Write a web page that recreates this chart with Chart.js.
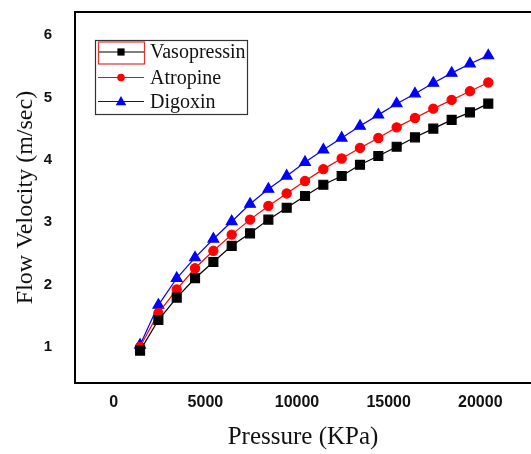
<!DOCTYPE html>
<html>
<head>
<meta charset="utf-8">
<script src="https://cdn.jsdelivr.net/npm/chart.js@4.4.1/dist/chart.umd.min.js"></script>
<style>
  body { margin: 0; background: #fff; }
  #wrap { width: 531px; height: 454px; }
</style>
</head>
<body>
<div id="wrap"><canvas id="myChart" width="531" height="454"></canvas></div>
<script>
// pressure values (KPa)
var pressure = [1000, 2000, 3000, 4000, 5000, 6000, 7000, 8000, 9000, 10000,
                11000, 12000, 13000, 14000, 15000, 16000, 17000, 18000, 19000, 20000];
// flow velocity (m/sec)
var vasopressin = [0.94, 1.43, 1.79, 2.10, 2.36, 2.62, 2.82, 3.04, 3.23, 3.42,
                   3.60, 3.74, 3.92, 4.06, 4.21, 4.36, 4.50, 4.64, 4.76, 4.90];
var atropine = [1.00, 1.54, 1.92, 2.26, 2.54, 2.80, 3.04, 3.26, 3.46, 3.66,
                3.85, 4.02, 4.19, 4.35, 4.52, 4.67, 4.82, 4.96, 5.10, 5.24];
var digoxin = [1.03, 1.67, 2.10, 2.43, 2.73, 3.01, 3.29, 3.53, 3.74, 3.96,
               4.16, 4.35, 4.54, 4.72, 4.90, 5.06, 5.23, 5.39, 5.54, 5.67];
// tick labels
var xTicks = [0, 5000, 10000, 15000, 20000];
var yTicks = [1, 2, 3, 4, 5, 6];

function pts(ys) {
  return ys.map(function (y, i) { return { x: pressure[i], y: y }; });
}

function marker(ctx, style, x, y, r, color) {
  ctx.fillStyle = color;
  ctx.beginPath();
  if (style === 'rect') {
    ctx.rect(x - r, y - r, 2 * r, 2 * r);
  } else if (style === 'circle') {
    ctx.arc(x, y, r, 0, Math.PI * 2);
  } else {
    ctx.moveTo(x, y - r * 1.1);
    ctx.lineTo(x + r * 1.05, y + r * 0.75);
    ctx.lineTo(x - r * 1.05, y + r * 0.75);
    ctx.closePath();
  }
  ctx.fill();
}

// frame around the plot + boxed legend in the top left corner
var framePlugin = {
  id: 'frame',
  afterDraw: function (chart) {
    var ctx = chart.ctx, a = chart.chartArea;
    ctx.save();
    ctx.strokeStyle = '#000';
    ctx.lineWidth = 2;
    ctx.beginPath();
    ctx.moveTo(a.right + 5, a.top);
    ctx.lineTo(a.left, a.top);
    ctx.lineTo(a.left, a.bottom);
    ctx.lineTo(a.right + 5, a.bottom);
    ctx.stroke();

    // legend
    ctx.strokeStyle = '#333';
    ctx.lineWidth = 1.2;
    ctx.strokeRect(95.5, 40.5, 152, 74);
    var rows = [52, 77.5, 101.5];
    var styles = ['rect', 'circle', 'triangle'];
    var sizes = [3.6, 3.8, 5];
    ctx.font = '20px "Liberation Serif", "Times New Roman", serif';
    ctx.textBaseline = 'middle';
    chart.data.datasets.forEach(function (ds, i) {
      var y = rows[i];
      ctx.strokeStyle = ds.borderColor;
      ctx.lineWidth = 1.2;
      ctx.beginPath();
      ctx.moveTo(98, y);
      ctx.lineTo(144, y);
      ctx.stroke();
      marker(ctx, styles[i], 121, y, sizes[i], ds.pointBackgroundColor);
      ctx.fillStyle = '#111';
      ctx.fillText(ds.label, 150, y + 1);
    });
    ctx.strokeStyle = '#e53030';
    ctx.lineWidth = 1.2;
    ctx.strokeRect(98.5, 42, 46, 22);
    ctx.restore();
  }
};

var ctx = document.getElementById('myChart');
var myChart = new Chart(ctx, {
  type: 'line',
  data: {
    datasets: [
      {
        label: 'Vasopressin',
        data: pts(vasopressin),
        borderColor: '#000000',
        pointBackgroundColor: '#000000',
        pointBorderColor: '#000000',
        pointStyle: 'rect',
        pointRadius: 6.3,
        borderWidth: 1.2
      },
      {
        label: 'Atropine',
        data: pts(atropine),
        borderColor: '#ff0000',
        pointBackgroundColor: '#ff0000',
        pointBorderColor: '#ff0000',
        pointStyle: 'circle',
        pointRadius: 4.6,
        borderWidth: 1.2
      },
      {
        label: 'Digoxin',
        data: pts(digoxin),
        borderColor: '#0000ff',
        pointBackgroundColor: '#0000ff',
        pointBorderColor: '#0000ff',
        pointStyle: 'triangle',
        pointRadius: 6.2,
        borderWidth: 1.2
      }
    ]
  },
  options: {
    responsive: false,
    animation: false,
    layout: { autoPadding: false, padding: { top: 12, left: 0, right: 0, bottom: 0 } },
    plugins: {
      legend: { display: false },
      tooltip: { enabled: false }
    },
    elements: { line: { tension: 0 } },
    scales: {
      x: {
        type: 'linear',
        min: -2550,
        max: 22330,
        grid: { display: false, drawTicks: false },
        border: { display: false },
        afterBuildTicks: function (s) { s.ticks = xTicks.map(function (v) { return { value: v }; }); },
        afterFit: function (s) { s.height = 71; s.paddingLeft = 0; s.paddingRight = 0; },
        ticks: {
          color: '#111',
          padding: 10,
          labelOffset: -8,
          maxRotation: 0,
          callback: function (v) { return String(v); },
          font: { family: '"Liberation Sans", Arial, sans-serif', size: 16, weight: 'bold' }
        },
        title: {
          display: true,
          text: 'Pressure (KPa)',
          color: '#111',
          padding: { top: 0, bottom: 2 },
          font: { family: '"Liberation Serif", "Times New Roman", serif', size: 25, lineHeight: 1.2 }
        }
      },
      y: {
        min: 0.42,
        max: 6.37,
        grid: { display: false, drawTicks: false },
        border: { display: false },
        afterBuildTicks: function (s) { s.ticks = yTicks.map(function (v) { return { value: v }; }); },
        afterFit: function (s) { s.width = 75; s.paddingTop = 0; s.paddingBottom = 0; },
        ticks: {
          color: '#111',
          padding: 23,
          callback: function (v) { return String(v); },
          font: { family: '"Liberation Sans", Arial, sans-serif', size: 15, weight: 'bold' }
        },
        title: {
          display: true,
          text: 'Flow Velocity (m/sec)',
          color: '#111',
          padding: { top: 11, bottom: 0 },
          font: { family: '"Liberation Serif", "Times New Roman", serif', size: 24, lineHeight: 1.2 }
        }
      }
    }
  },
  plugins: [framePlugin]
});
</script>
</body>
</html>
